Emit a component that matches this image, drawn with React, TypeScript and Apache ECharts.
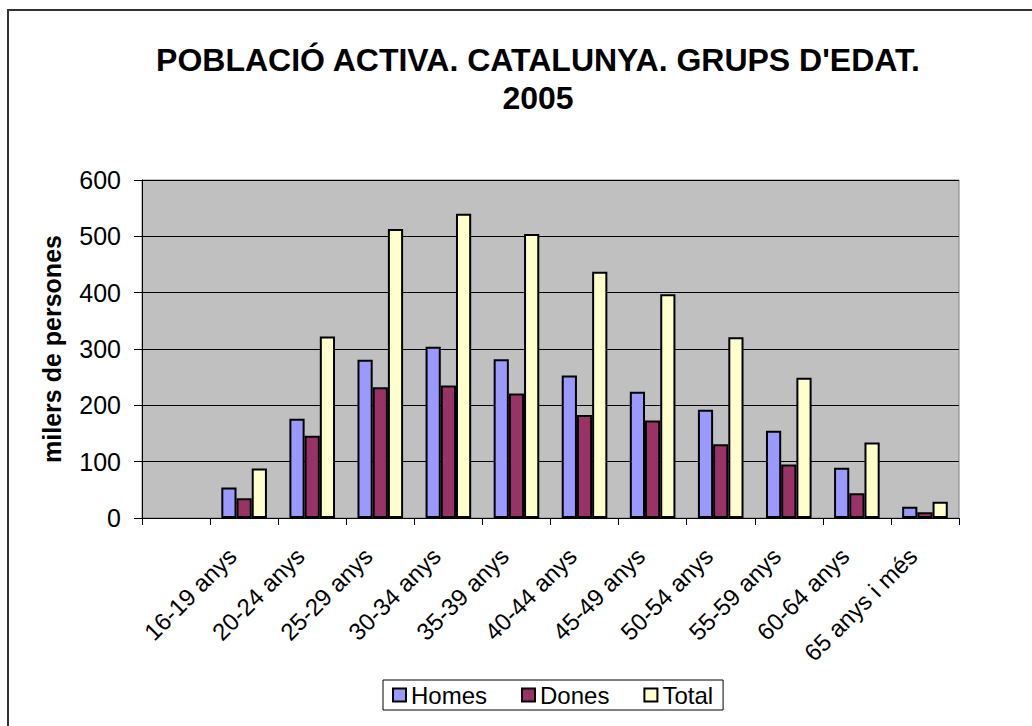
import React, { useEffect, useRef } from "react";
import * as echarts from "echarts";

const categories = [
  "",
  "16-19 anys",
  "20-24 anys",
  "25-29 anys",
  "30-34 anys",
  "35-39 anys",
  "40-44 anys",
  "45-49 anys",
  "50-54 anys",
  "55-59 anys",
  "60-64 anys",
  "65 anys i més",
];
const homes = [null, 54, 176, 281, 304, 282, 253, 224, 192, 155, 89, 20];
const dones = [null, 35, 146, 232, 235, 221, 183, 173, 131, 95, 44, 10];
const total = [null, 88, 322, 513, 540, 504, 437, 397, 321, 249, 134, 29];
const yTicks = { min: 0, max: 600, interval: 100 };

const FONT = "'Liberation Sans', Arial, sans-serif";

export default function App() {
  const ref = useRef<HTMLDivElement>(null);
  useEffect(() => {
    document.body.style.margin = "0";
    document.body.style.overflow = "hidden";
    const chart = echarts.init(ref.current!, null, { renderer: "svg" });
    const barStyle = (color: string) => ({
      color,
      borderColor: "#000",
      borderWidth: 2,
    });
    chart.setOption({
      animation: false,
      backgroundColor: "#fff",
      textStyle: { fontFamily: FONT },
      title: {
        text: "POBLACIÓ ACTIVA. CATALUNYA. GRUPS D'EDAT.\n2005",
        left: 538,
        top: 41,
        textAlign: "center",
        padding: 0,
        textStyle: {
          fontFamily: FONT,
          fontSize: 32,
          fontWeight: "bold",
          color: "#000",
          lineHeight: 38,
        },
      },
      graphic: [
        {
          type: "rect",
          shape: { x: 8, y: 10, width: 2000, height: 2000 },
          style: { fill: "none", stroke: "#333", lineWidth: 2 },
          silent: true,
        },
      ],
      legend: {
        left: 383,
        top: 680,
        padding: [3, 10, 3, 9],
        itemWidth: 13,
        itemHeight: 13,
        itemGap: 34,
        itemTextGap: 4,
        borderColor: "#000",
        borderWidth: 1,
        icon: "rect",
        textStyle: { fontFamily: FONT, fontSize: 24, color: "#000" },
        data: ["Homes", "Dones", "Total"],
      },
      grid: {
        left: 142,
        top: 180,
        right: 73,
        bottom: 208,
        show: true,
        backgroundColor: "#C0C0C0",
        borderColor: "#808080",
        borderWidth: 1,
      },
      xAxis: {
        type: "category",
        data: categories,
        boundaryGap: true,
        axisLine: { show: true, lineStyle: { color: "#000", width: 1 } },
        axisTick: { show: true, inside: false, length: 7, lineStyle: { color: "#000" } },
        axisLabel: {
          interval: 0,
          rotate: 45,
          margin: 22,
          padding: [0, 17, 0, 0],
          fontFamily: FONT,
          fontSize: 24,
          color: "#000",
        },
        splitLine: { show: false },
      },
      yAxis: {
        type: "value",
        min: yTicks.min,
        max: yTicks.max,
        interval: yTicks.interval,
        name: "milers de persones",
        nameLocation: "middle",
        nameGap: 78,
        nameTextStyle: {
          fontFamily: FONT,
          fontSize: 25,
          fontWeight: "bold",
          color: "#000",
        },
        axisLine: { show: true, lineStyle: { color: "#000", width: 1 } },
        axisTick: { show: true, inside: false, length: 8, lineStyle: { color: "#000" } },
        axisLabel: { margin: 21, fontFamily: FONT, fontSize: 25, color: "#000" },
        splitLine: { show: true, lineStyle: { color: "#000", width: 1 } },
      },
      series: [
        {
          name: "Homes",
          type: "bar",
          data: homes,
          barGap: "0%",
          barCategoryGap: "33%",
          itemStyle: barStyle("#9999FF"),
        },
        {
          name: "Dones",
          type: "bar",
          data: dones,
          barGap: "0%",
          barCategoryGap: "33%",
          itemStyle: barStyle("#993366"),
        },
        {
          name: "Total",
          type: "bar",
          data: total,
          barGap: "0%",
          barCategoryGap: "33%",
          itemStyle: barStyle("#FFFFCC"),
        },
      ],
    });
    return () => chart.dispose();
  }, []);
  return <div ref={ref} style={{ width: 1032, height: 726 }} />;
}
